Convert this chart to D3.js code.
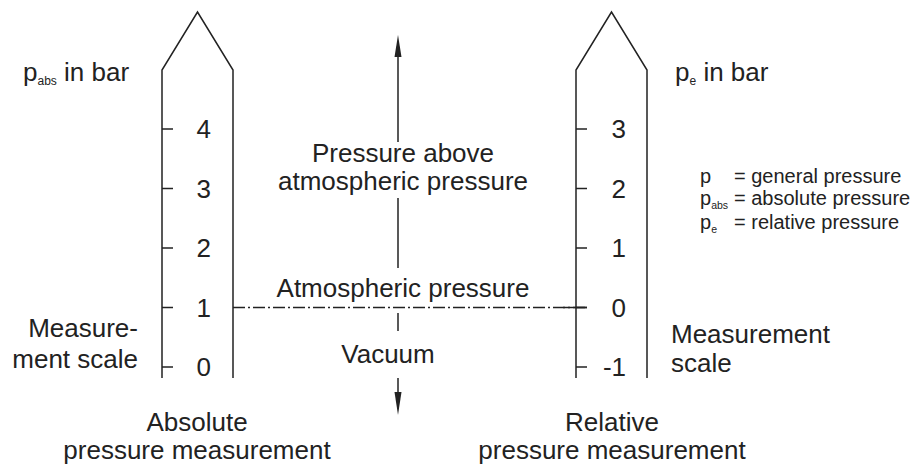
<!DOCTYPE html>
<html>
<head>
<meta charset="utf-8">
<script src="https://cdn.jsdelivr.net/npm/d3@7"></script>
<style>
  html, body { margin: 0; padding: 0; background: #fff; }
  svg { display: block; font-family: "Liberation Sans", Arial, Helvetica, sans-serif; }
</style>
</head>
<body>
<svg id="chart" width="920" height="470"></svg>
<script>
// ---- data ----
const absTicks = [0, 1, 2, 3, 4];          // absolute pressure scale, bar
const relTicks = [-1, 0, 1, 2, 3];         // relative pressure scale, bar
const atmAbs = 1;                          // atmospheric pressure on the absolute scale
const atmRel = 0;                          // atmospheric pressure on the relative scale
const absTitle = ["p", "abs", " in bar"];
const relTitle = ["p", "e", " in bar"];
const absCaption = ["Absolute", "pressure measurement"];
const relCaption = ["Relative", "pressure measurement"];
const leftScaleLabel = ["Measure-", "ment scale"];
const rightScaleLabel = ["Measurement", "scale"];
const aboveLabel = ["Pressure above", "atmospheric pressure"];
const atmLabel = "Atmospheric pressure";
const vacLabel = "Vacuum";
const legend = [
  { sym: "p", sub: "", text: "= general pressure" },
  { sym: "p", sub: "abs", text: "= absolute pressure" },
  { sym: "p", sub: "e", text: "= relative pressure" }
];

// ---- layout ----
const ink = "#222";
const svg = d3.select("#chart");
const yAbs = d3.scaleLinear().domain([0, 4]).range([367, 129]);
const yRel = d3.scaleLinear().domain([-1, 3]).range([367, 129]);

const gauges = [
  { x0: 162, x1: 233, scale: yAbs, ticks: absTicks, labelX: 211 },
  { x0: 576, x1: 647, scale: yRel, ticks: relTicks, labelX: 626 }
];
const shoulderY = 70, apexY = 12, bottomY = 378;

gauges.forEach(g => {
  const mid = (g.x0 + g.x1) / 2;
  svg.append("path")
    .attr("d", `M${g.x0},${bottomY} L${g.x0},${shoulderY} L${mid},${apexY} L${g.x1},${shoulderY} L${g.x1},${bottomY}`)
    .attr("fill", "none").attr("stroke", ink).attr("stroke-width", 1.5);
  svg.selectAll(null).data(g.ticks).enter().append("line")
    .attr("x1", g.x0).attr("x2", g.x0 + 11)
    .attr("y1", d => g.scale(d)).attr("y2", d => g.scale(d))
    .attr("stroke", ink).attr("stroke-width", 1.5);
  svg.selectAll(null).data(g.ticks).enter().append("text")
    .attr("x", g.labelX).attr("y", d => g.scale(d) + 9)
    .attr("text-anchor", "end").attr("font-size", 26).attr("fill", ink)
    .text(d => d);
});

// atmospheric reference line (dash-dot)
const yAtm = yAbs(atmAbs);
svg.append("line")
  .attr("x1", 233).attr("x2", 587).attr("y1", yAtm).attr("y2", yAtm)
  .attr("stroke", ink).attr("stroke-width", 1.3)
  .attr("stroke-dasharray", "12,3,2,3");
// crossing tick on relative scale at 0
svg.append("line")
  .attr("x1", 563).attr("x2", 587).attr("y1", yRel(atmRel)).attr("y2", yRel(atmRel))
  .attr("stroke", ink).attr("stroke-width", 1.5);

// central arrow
const ax = 398;
svg.append("line").attr("x1", ax).attr("x2", ax).attr("y1", 56).attr("y2", 142)
  .attr("stroke", ink).attr("stroke-width", 1.5);
svg.append("line").attr("x1", ax).attr("x2", ax).attr("y1", 198).attr("y2", 268)
  .attr("stroke", ink).attr("stroke-width", 1.5);
svg.append("line").attr("x1", ax).attr("x2", ax).attr("y1", 313).attr("y2", 331)
  .attr("stroke", ink).attr("stroke-width", 1.5);
svg.append("line").attr("x1", ax).attr("x2", ax).attr("y1", 378).attr("y2", 394)
  .attr("stroke", ink).attr("stroke-width", 1.5);
svg.append("path").attr("d", `M${ax},35 L${ax - 3.5},57 L${ax + 3.5},57 Z`).attr("fill", ink);
svg.append("path").attr("d", `M${ax},415 L${ax - 3.5},392 L${ax + 3.5},392 Z`).attr("fill", ink);

// text helpers
function txt(x, y, s, anchor, size) {
  return svg.append("text").attr("x", x).attr("y", y)
    .attr("text-anchor", anchor || "middle").attr("font-size", size || 26)
    .attr("fill", ink).text(s);
}

txt(403, 162, aboveLabel[0]);
txt(403, 190, aboveLabel[1]);
txt(403, 297, atmLabel);
txt(388, 363, vacLabel);

txt(197, 431, absCaption[0]);
txt(197, 459, absCaption[1]);
txt(612, 431, relCaption[0]);
txt(612, 459, relCaption[1]);

txt(138, 337, leftScaleLabel[0], "end");
txt(138, 368, leftScaleLabel[1], "end");
txt(671, 343, rightScaleLabel[0], "start");
txt(671, 372, rightScaleLabel[1], "start");

// axis titles with subscripts
function title(x, y, parts) {
  const t = svg.append("text").attr("x", x).attr("y", y).attr("font-size", 26).attr("fill", ink);
  t.append("tspan").text(parts[0]);
  t.append("tspan").attr("font-size", 12).attr("dy", 4).text(parts[1]);
  t.append("tspan").attr("dy", -4).text(parts[2]);
}
title(23, 81, absTitle);
title(675, 81, relTitle);

// legend
const legY = [183, 205, 229];
legend.forEach((d, i) => {
  const t = svg.append("text").attr("x", 700).attr("y", legY[i]).attr("font-size", 20).attr("fill", ink);
  t.append("tspan").text(d.sym);
  if (d.sub) t.append("tspan").attr("font-size", 10.5).attr("dy", 4).text(d.sub);
  svg.append("text").attr("x", 734).attr("y", legY[i]).attr("font-size", 20).attr("fill", ink).text(d.text);
});
</script>
</body>
</html>
